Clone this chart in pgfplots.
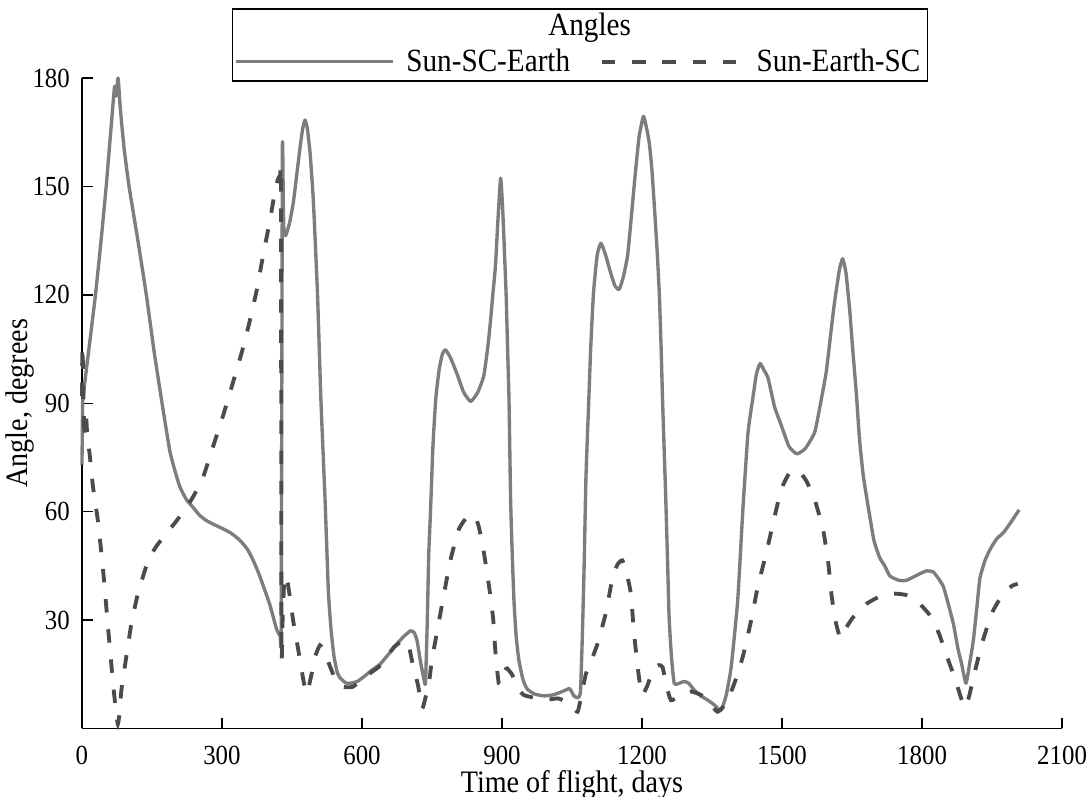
\documentclass[border=0pt]{standalone}
\usepackage{fontspec}
\setmainfont{Liberation Serif}[FakeStretch=0.9]
\usepackage{pgfplots}
\pgfplotsset{compat=1.18}
\definecolor{solidgray}{RGB}{125,125,125}
\definecolor{dashgray}{RGB}{75,75,75}
\pgfplotsset{
  legsolid/.style={legend image code/.code={\draw[##1] (0pt,0pt) -- (65.6pt,0pt); \path (68.4pt,0pt);}},
  legdash/.style={legend image code/.code={\draw[##1] (0pt,0pt) -- (61.6pt,0pt);}},
}

\pgfplotstableread{
x y
0 73
1 82
2 91
15 105
29 120
41 135
52 150
61 164
70 177.7
73 175
77.5 180
82 172
90 161
101 150
120 135
138 120
155 104
170.5 91
188 77
200 71
210 66.8
224 63.3
238 61.2
252 59
267 57.5
285 56.3
303 55.2
320 54
339 52
355 49.5
367 46.5
380 42.5
392 38.2
402 34.5
410 30.8
417 27.5
424.6 25.7
427 28
429.5 160
431.5 145
433 137
437 136.5
445 140
453 145.6
460 153
467.6 161
473 166
478 168.4
483 166
489 159
496 145.6
504.7 120.4
512 91
521 63
528 38
534 27
540 20
547 15.5
553 14
565 12.6
575 12.5
590 13
603 14.2
620 16
639 17.8
660 21
675 23.4
690 25.5
704 27
712 26.5
718 24.3
726 18
732 14.2
736 12.5
740 30
743 48
747 60.5
752 78
758 91
765 99
772 103.5
779 104.8
790 102.5
804 98
818 93
833 90.5
848 93
861 97.6
870 106
875.5 113
881 121
886 128
891 140
897 152.3
901 145
904 136
909 119.5
912 105
915 91
918.5 63
922 48
925.6 35.5
930 26
936 19
945 13.5
954 10.9
970 9.5
990 9
1010 9.3
1033 10.4
1045 11
1054 9
1062 8.5
1068 10
1072 25
1076 45
1080 70
1086 91
1090 105
1096 120.5
1104 131
1112 134.3
1122 131
1133 126
1142 122.5
1151 121.5
1160 125
1169 130.8
1176 140
1183 150
1189 158
1194 164
1203 169.4
1210 166
1215.6 162
1221 155
1226 145.4
1232 133
1237 120.5
1241 105
1244 91
1251 63
1255 45
1258 30.8
1263 20
1269 12.5
1280 12.5
1290 13
1300 12.5
1312 10.6
1326 9
1341 7.8
1355 6.5
1369 5
1380 9
1391 17
1405 35.4
1416 60.4
1427 81.7
1437 91
1445 98
1453 101
1462 99
1470 97
1484 89
1498 84
1515 78
1532 76
1550 77.5
1570 82
1584 91
1594.6 98.6
1605 110
1612.5 118
1623 127
1630 130
1637 126
1645 115.7
1652 104
1659 93
1666 80
1674 70
1685 61
1697 52
1709 47.3
1720 45
1731 42.2
1750 41
1767 41
1795 42.8
1810 43.6
1824 43.3
1835 41.5
1845.5 39.3
1855 35
1867 29
1877 22
1885 17.7
1894 12.5
1902 18
1910 24.5
1917 33
1924 41.6
1935 46.5
1946 49.6
1960 52.5
1974.5 54.2
1990 57
2008 60.5
}\solidtable

\pgfplotstableread{
x y
0 92
1 106
3 96
5 80
8 88
12 80
16.5 76
23.6 67
34 57.7
41.7 48.5
48.7 39.2
54.5 30
61 20.8
66.6 12.5
74 3.5
77 1.2
80 3.5
84.6 10.6
95 19.8
106 29
120 37.3
142 46.5
160 50.5
177.6 53.4
200 57
224 61.2
240 64.5
260 69.7
281 78
303 86.8
321 94.6
346 105.7
360 113
374.5 121.3
389 131.5
403 140.7
414 149
420 152
424.6 153
426.5 150
427.5 22
430 30
434 42
440 41
447 35
453 29.5
464 21.4
475 13
482 9.7
492 15
500 20
510 23
520 21
532 17
545 13
560 11.5
580 11.5
600 13.5
620 15.5
640 17.5
668 22.4
690 24.5
700 23
710 17
720 12
729 5.5
737 9
743 12
750 19
764.5 29.3
775 36.7
790 46.8
807.5 55.1
825 58.5
840 59
850 56
861 48.8
872 39.6
881 30.4
886 21
893 12.5
900 12.5
906 16
911 16.6
922 14.8
935 11
947 9.2
976 8.3
1000 8
1020 8.3
1035 7.5
1050 6
1062 4.6
1070 9
1079.6 15
1092 19
1104.6 23.4
1122 31.7
1137 41.8
1148 45.5
1158 46.5
1167 43
1176 37.3
1183 26.3
1190.6 17
1196 12
1201 9.2
1212 12
1223 16.1
1235 17.5
1244 17
1252 12
1262 7.8
1280 9
1305 10.2
1327 9.2
1345 7
1362 4.6
1380 7
1398 12.5
1416 19.9
1434 30
1448 39.2
1466 48.4
1480.6 56.7
1498 66
1515 70.5
1534 71.5
1552 68.5
1570 63.3
1588 55
1599 45.8
1606 37
1614 30
1625 25
1638 28
1652 30.7
1675 34
1706 36.3
1740 37.3
1770 36.8
1795 34.5
1820.5 30.7
1837 26
1849 21.5
1860 17.5
1871 13.7
1882 9
1892 5.8
1901 9
1910 14
1928 23.4
1950 32
1970 36.5
1992 39.4
2005 40
}\dashtable

\begin{document}
\begin{tikzpicture}
\begin{axis}[
  scale only axis, width=408pt, height=270.7pt,
  xmin=0, xmax=2100, ymin=0, ymax=180,
  clip=false,
  axis lines*=left,
  axis line style={black, line width=0.7pt},
  xtick={0,300,...,2100},
  ytick={30,60,90,120,150,180},
  tick align=inside,
  major tick length=4.5pt,
  tick style={black, line width=0.6pt},
  /pgf/number format/assume math mode=true,
  /pgf/number format/1000 sep={},
  tick label style={font=\fontsize{11.5}{13}\selectfont},
  xticklabel style={inner sep=0pt, anchor=north, yshift=-7pt},
  yticklabel style={xshift=-1.5pt},
  label style={font=\fontsize{13}{15}\selectfont},
  xlabel={Time of flight, days},
  ylabel={Angle, degrees},
  xlabel style={at={(axis description cs:0.5,-0.099)}, anchor=base, inner sep=0pt},
  ylabel style={at={(axis description cs:-0.063,0.5)}, anchor=center, rotate=0},
  legend columns=2,
  legend style={draw=none, fill=none, at={(0.5077,1.025)}, anchor=center,
    font=\fontsize{13.5}{15}\selectfont, inner sep=0pt,
    /tikz/every even column/.append style={column sep=10.4pt}},
]
\draw[black, line width=0.7pt] (rel axis cs:0.1536,0.9954) rectangle (rel axis cs:0.8628,1.1057);
\node[font=\fontsize{13.5}{15}\selectfont] at (rel axis cs:0.518,1.077) {Angles};
\addplot[solidgray, line width=1.4pt, line join=round, smooth, tension=0.3, legsolid] table {\solidtable};
\addlegendentry{Sun-SC-Earth}
\addplot[dashgray, line width=1.6pt, dash pattern=on 5.6pt off 7pt, smooth, tension=0.3, legdash] table {\dashtable};
\addlegendentry{Sun-Earth-SC}
\end{axis}
\pgfresetboundingbox
\path[use as bounding box] ([shift={(-34.1pt,-28.3pt)}]current axis.south west) rectangle ([shift={(11.2pt,32.5pt)}]current axis.north east);
\end{tikzpicture}
\end{document}
